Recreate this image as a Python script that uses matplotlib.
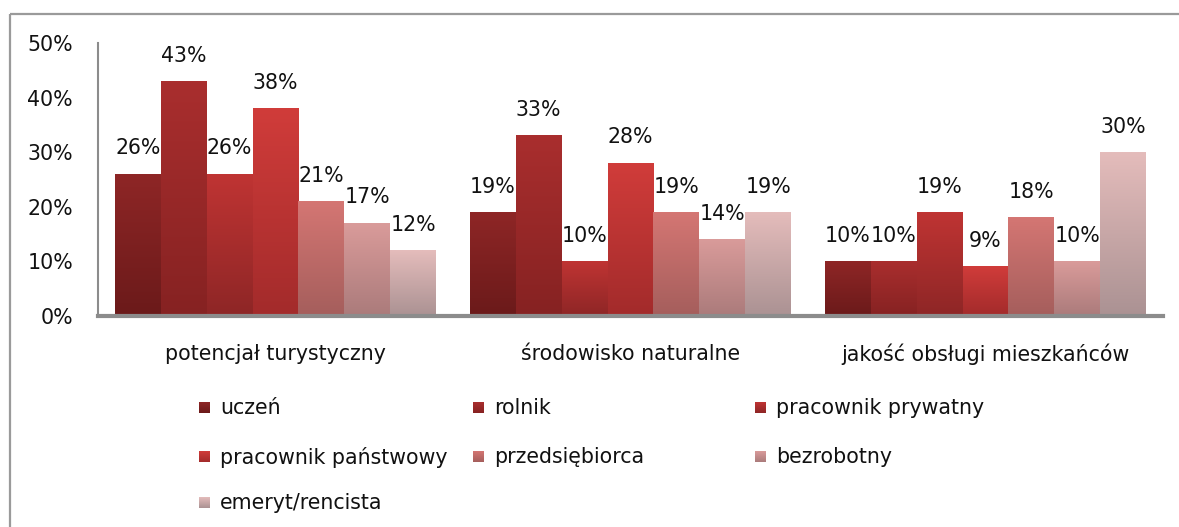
import numpy as np
import matplotlib
matplotlib.use("Agg")
import matplotlib.pyplot as plt
from matplotlib.colors import to_rgb
from matplotlib.patches import Rectangle

plt.rcParams['font.family'] = ['DejaVu Sans']

categories = ["potencjał turystyczny", "środowisko naturalne", "jakość obsługi mieszkańców"]
series = ["uczeń", "rolnik", "pracownik prywatny", "pracownik państwowy",
          "przedsiębiorca", "bezrobotny", "emeryt/rencista"]
values = [
    [0.26, 0.19, 0.10],   # uczeń
    [0.43, 0.33, 0.10],   # rolnik
    [0.26, 0.10, 0.19],   # pracownik prywatny
    [0.38, 0.28, 0.09],   # pracownik państwowy
    [0.21, 0.19, 0.18],   # przedsiębiorca
    [0.17, 0.14, 0.10],   # bezrobotny
    [0.12, 0.19, 0.30],   # emeryt/rencista
]
yticks = [0, 0.1, 0.2, 0.3, 0.4, 0.5]
ytick_labels = ["0%", "10%", "20%", "30%", "40%", "50%"]

# gradient colours (top, bottom)
grads = [
    ("#8e2626", "#6b1a1a"),
    ("#a92e2e", "#862222"),
    ("#bf3433", "#8e2626"),
    ("#d03c3a", "#a32b2b"),
    ("#d47673", "#a55e5c"),
    ("#d99b9a", "#ab7b7b"),
    ("#e4bcbb", "#ab9293"),
]
FS = 14.8


def grad_img(top, bottom, n=64):
    t = np.linspace(0, 1, n)[:, None]
    a = np.array(to_rgb(top))
    b = np.array(to_rgb(bottom))
    return (a * (1 - t) + b * t)[:, None, :]


W, H = 1179, 527
fig = plt.figure(figsize=(W / 100, H / 100), dpi=100)

# outer frame
frame = fig.add_axes([0, 0, 1, 1])
frame.set_xlim(0, W)
frame.set_ylim(H, 0)
frame.axis("off")
frame.add_patch(Rectangle((10, 14), W + 20, H + 20, fill=False,
                          edgecolor="#9a9a9a", linewidth=1.6))

ax = fig.add_axes([98 / W, 1 - 316 / H, (1163 - 98) / W, (316 - 43) / H])
ax.set_zorder(2)
ax.patch.set_alpha(0)

n = len(series)
x = np.arange(len(categories))
bw = 0.905 / n
for i, (name, vals) in enumerate(zip(series, values)):
    pos = x - 0.905 / 2 + bw * (i + 0.5)
    bars = ax.bar(pos, vals, width=bw, color=grads[i][0], linewidth=0)
    for b in bars:
        bx, bh = b.get_x(), b.get_height()
        ax.imshow(grad_img(*grads[i]), extent=[bx, bx + bw, 0, bh],
                  aspect="auto", origin="upper", zorder=3, interpolation="bilinear")
        ax.annotate(f"{round(bh * 100):d}%", (bx + bw / 2, bh), xytext=(0, 18.5),
                    textcoords="offset points", ha="center", va="center",
                    fontsize=FS, color="#111111", zorder=4)

ax.set_xlim(-0.5, len(categories) - 0.5)
ax.set_ylim(0, 0.5)
ax.set_yticks(yticks)
ax.set_yticklabels(ytick_labels)
ax.set_xticks(x)
ax.set_xticklabels(categories)
ax.tick_params(axis="y", length=0, pad=18, labelsize=FS, labelcolor="#111111")
ax.tick_params(axis="x", length=0, pad=20, labelsize=FS, labelcolor="#111111")
for s in ("top", "right"):
    ax.spines[s].set_visible(False)
ax.spines["left"].set_color("#8c8c8c")
ax.spines["left"].set_linewidth(1.5)
ax.spines["bottom"].set_color("#8c8c8c")
ax.spines["bottom"].set_linewidth(3)
ax.spines["bottom"].set_zorder(5)

# legend, row-major, three columns
col_x = [199, 473, 755]
row_y = [408, 457, 503]
sq = 11
for i, name in enumerate(series):
    cx = col_x[i % 3]
    cy = row_y[i // 3]
    frame.imshow(grad_img(*grads[i]), extent=[cx, cx + sq, cy + sq / 2, cy - sq / 2],
                 aspect="auto", origin="upper", interpolation="bilinear")
    frame.text(cx + sq + 10, cy, name, fontsize=FS, va="center", ha="left", color="#111111")
frame.set_xlim(0, W)
frame.set_ylim(H, 0)

fig.savefig("out.png", dpi=100)
